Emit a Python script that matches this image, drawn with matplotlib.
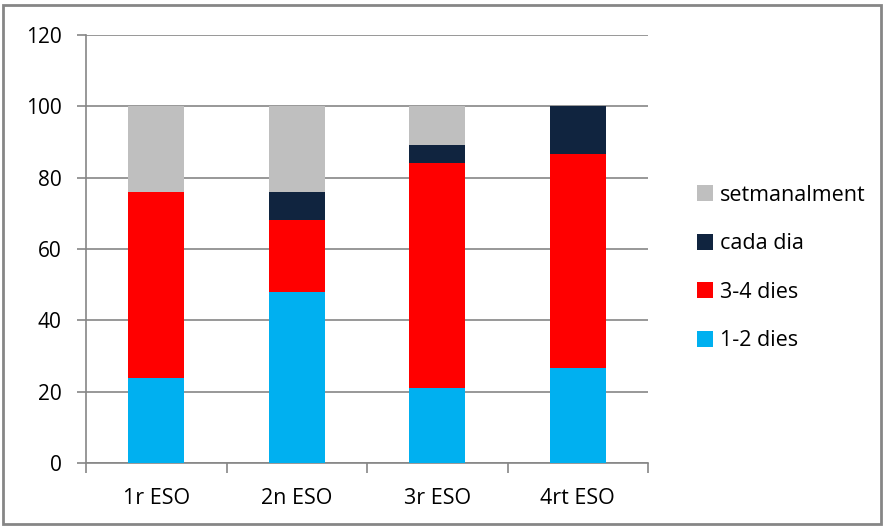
import matplotlib.pyplot as plt
import numpy as np
from matplotlib.patches import Rectangle

plt.rcParams['font.family'] = ['Open Sans', 'DejaVu Sans']

cursos = ['1r ESO', '2n ESO', '3r ESO', '4rt ESO']
dies_1_2 = [24, 48, 21, 26.7]
dies_3_4 = [52, 20, 63, 60]
cada_dia = [0, 8, 5, 13.3]
setmanalment = [24, 24, 11, 0]

series = [
    ('1-2 dies', dies_1_2, '#00B0F0'),
    ('3-4 dies', dies_3_4, '#FF0000'),
    ('cada dia', cada_dia, '#10243F'),
    ('setmanalment', setmanalment, '#BFBFBF'),
]

grid_col = '#868686'

fig = plt.figure(figsize=(8.84, 5.27), dpi=100)
ax = fig.add_axes([86/884, 1 - 463.3/527, (648 - 86)/884, (463.3 - 34.6)/527])

x = np.arange(len(cursos))
bottom = np.zeros(len(cursos))
handles = []
for label, vals, col in series:
    b = ax.bar(x, vals, bottom=bottom, width=0.4, color=col, label=label, zorder=3)
    handles.append(b)
    bottom += np.array(vals)

ax.set_xlim(-0.5, len(cursos) - 0.5)
ax.set_ylim(0, 120)
ax.set_yticks(range(0, 121, 20))
ax.yaxis.grid(True, color=grid_col, linewidth=1.2, zorder=0)

ax.set_xticks(x)
ax.set_xticklabels(cursos)
ax.set_xticks(np.arange(-0.5, len(cursos), 1), minor=True)
ax.tick_params(axis='x', which='major', length=0, pad=18, labelsize=15.5)
ax.tick_params(axis='x', which='minor', length=7, color=grid_col, width=1.2)
ax.tick_params(axis='y', length=6.5, color=grid_col, width=1.2, pad=11, labelsize=15)

for s in ['top', 'right']:
    ax.spines[s].set_visible(False)
for s in ['left', 'bottom']:
    ax.spines[s].set_color(grid_col)
    ax.spines[s].set_linewidth(1.2)

fig.legend(handles[::-1], [s[0] for s in series][::-1], loc='upper left',
           bbox_to_anchor=(688/884, 1 - 176/527), frameon=False, fontsize=15.5,
           labelspacing=1.28, handlelength=0.75, handleheight=0.75, handletextpad=0.35,
           borderaxespad=0)

fig.patches.append(Rectangle((3/884, 3/527), 878/884, 519/527, transform=fig.transFigure,
                             fill=False, edgecolor=grid_col, linewidth=2))

fig.savefig('out.png', dpi=100)
